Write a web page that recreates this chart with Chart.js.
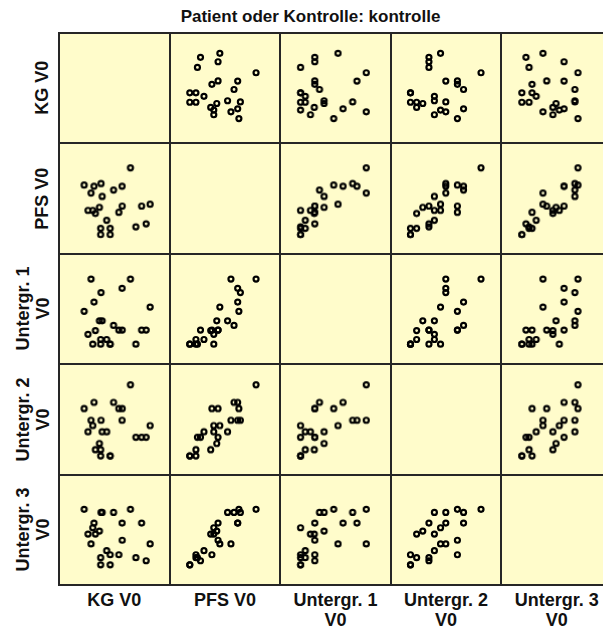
<!DOCTYPE html>
<html>
<head>
<meta charset="utf-8">
<script src="https://cdn.jsdelivr.net/npm/chart.js@4.4.1/dist/chart.umd.min.js"></script>
<style>
  html, body { margin: 0; padding: 0; background: #fff; }
  #page { position: relative; width: 603px; height: 630px; overflow: hidden; background: #fff;
          font-family: "Liberation Sans", Arial, sans-serif; font-weight: bold; color: #111; }
  #title { position: absolute; left: 0; width: 621px; top: 7px; text-align: center; font-size: 17px; line-height: 20px; }
  #matrix { position: absolute; left: 58px; top: 31.7px; display: grid;
            grid-template-columns: repeat(5, 108.6px); grid-template-rows: repeat(5, 108.46px);
            gap: 2px; padding: 2px; background: #262626; }
  .cell { position: relative; background: #FFFCCB; }
  .cell canvas { position: absolute; left: 0; top: 0; }
  .xlab { position: absolute; top: 591px; width: 110px; text-align: center; font-size: 18px; line-height: 19.5px; }
  .ylab { position: absolute; width: 110px; text-align: center; font-size: 18px; line-height: 19.5px;
          transform: rotate(-90deg); transform-origin: 50% 50%; }
</style>
</head>
<body>
<div id="page">
  <div id="title">Patient oder Kontrolle: kontrolle</div>
  <div id="matrix"></div>
</div>
<script>
// Control group, baseline visit (V0): one entry per subject in every array
const kgV0 = [92.5, 55.5, 63.4, 69.0, 61.0, 69.9, 79.0, 85.8, 101.4, 108.2, 85.9, 83.2,
              58.6, 62.4, 64.5, 67.7, 73.5, 68.7, 68.7, 76.3, 76.3, 96.8, 105.0];
const pfsV0 = [81.0, 63.7, 62.5, 65.2, 55.7, 52.3, 58.8, 62.5, 42.7, 44.5, 42.7, 36.5,
               38.4, 38.4, 35.3, 41.4, 28.5, 20.4, 14.2, 20.4, 14.2, 21.9, 25.0];
const untergr1V0 = [80.4, 47.9, 57.2, 66.8, 80.4, 38.3, 33.7, 71.1, 29.0, 52.2, 29.0, 29.0,
                    24.7, 14.8, 28.5, 38.3, 19.5, 19.5, 14.8, 14.8, 14.8, 14.8, 29.0];
const untergr2V0 = [85.0, 61.2, 67.4, 49.5, 49.5, 38.0, 67.4, 49.5, 32.5, 44.2, 61.2, 61.2,
                    38.0, 44.2, 20.1, 26.3, 38.0, 20.1, 13.9, 13.9, 13.9, 32.5, 32.5];
const untergr3V0 = [71.1, 71.1, 57.2, 68.0, 36.2, 68.0, 68.0, 57.2, 57.2, 36.2, 39.9, 25.3,
                    46.1, 52.5, 46.1, 49.2, 29.4, 22.3, 15.1, 25.3, 15.1, 22.3, 19.2];

const variableLabels = [["KG V0"], ["PFS V0"], ["Untergr. 1", "V0"], ["Untergr. 2", "V0"], ["Untergr. 3", "V0"]];
const variableValues = [kgV0, pfsV0, untergr1V0, untergr2V0, untergr3V0];
const axisMin = [40, 0, 0, 0, 0];
const axisMax = [120, 100, 100, 100, 100];

const pitchX = 110.6, pitchY = 110.46;
const page = document.getElementById('page');
const matrix = document.getElementById('matrix');
const n = variableValues.length;

for (let row = 0; row < n; row++) {
  for (let col = 0; col < n; col++) {
    const cell = document.createElement('div');
    cell.className = 'cell';
    matrix.appendChild(cell);
    if (row === col) continue;
    const canvas = document.createElement('canvas');
    cell.appendChild(canvas);
    const xs = variableValues[col], ys = variableValues[row];
    new Chart(canvas, {
      type: 'scatter',
      data: {
        datasets: [{
          data: xs.map((x, k) => ({ x: x, y: ys[k] })),
          pointStyle: 'circle',
          pointRadius: 2.5,
          pointHoverRadius: 2.5,
          pointBorderWidth: 2.2,
          borderColor: '#000',
          backgroundColor: 'rgba(0,0,0,0)'
        }]
      },
      options: {
        responsive: true,
        maintainAspectRatio: false,
        animation: false,
        events: [],
        layout: { padding: 0 },
        plugins: { legend: { display: false }, tooltip: { enabled: false } },
        scales: {
          x: { type: 'linear', display: false, min: axisMin[col], max: axisMax[col] },
          y: { type: 'linear', display: false, min: axisMin[row], max: axisMax[row] }
        }
      }
    });
  }
}

// variable names under the columns and beside the rows
for (let k = 0; k < n; k++) {
  const xl = document.createElement('div');
  xl.className = 'xlab';
  xl.innerHTML = variableLabels[k].join('<br>');
  xl.style.left = (59 + pitchX * (k + 0.5) - 55) + 'px';
  page.appendChild(xl);

  const yl = document.createElement('div');
  yl.className = 'ylab';
  yl.innerHTML = variableLabels[k].join('<br>');
  const lines = variableLabels[k].length;
  const h = lines * 19.5;
  yl.style.height = h + 'px';
  const cx = lines === 1 ? 42.5 : 33.3;
  const cy = 32.7 + pitchY * (k + 0.5);
  yl.style.left = (cx - 55) + 'px';
  yl.style.top = (cy - h / 2) + 'px';
  page.appendChild(yl);
}
</script>
</body>
</html>
